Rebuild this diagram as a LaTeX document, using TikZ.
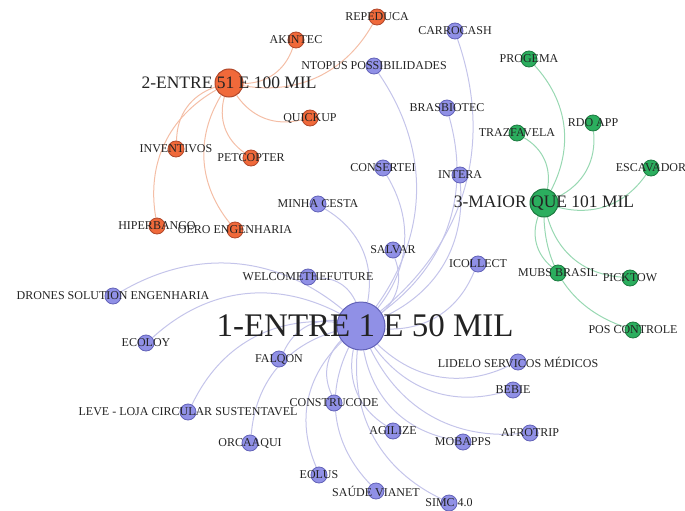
\documentclass[tikz,border=0pt]{standalone}
\usepackage{fontspec}
\setmainfont{Liberation Serif}
\usepackage{tikz}
\usetikzlibrary{calc}

\definecolor{lavender}{HTML}{9090E6}
\definecolor{lavenderdark}{HTML}{6262B8}
\definecolor{lavenderedge}{HTML}{C4C4EA}
\definecolor{coral}{HTML}{F0693A}
\definecolor{coraldark}{HTML}{B0472A}
\definecolor{coraledge}{HTML}{F4BEA6}
\definecolor{jade}{HTML}{2BAE5E}
\definecolor{jadedark}{HTML}{1C7A40}
\definecolor{jadeedge}{HTML}{98D8B2}
\definecolor{labelgray}{HTML}{232323}

\pgfdeclarelayer{background}
\pgfsetlayers{background,main}

\tikzset{
  tag/.style={text=labelgray, font=\fontsize{12}{12}\selectfont, inner sep=0pt},
  hubtag/.style={text=labelgray, font=\fontsize{17.5}{17.5}\selectfont, inner sep=0pt},
  bigtag/.style={text=labelgray, font=\fontsize{33}{33}\selectfont, inner sep=0pt},
  pnode/.style={circle, draw=lavenderdark, fill=lavender, line width=0.8pt, minimum size=16pt, inner sep=0pt, label={[tag]center:#1}},
  onode/.style={circle, draw=coraldark, fill=coral, line width=0.8pt, minimum size=16pt, inner sep=0pt, label={[tag]center:#1}},
  gnode/.style={circle, draw=jadedark, fill=jade, line width=0.8pt, minimum size=16pt, inner sep=0pt, label={[tag]center:#1}},
  pedge/.style={draw=lavenderedge, line width=1pt, bend left=35},
  oedge/.style={draw=coraledge, line width=1pt, bend left=35},
  gedge/.style={draw=jadeedge, line width=1pt, bend left=35}
}

\begin{document}
\begin{tikzpicture}[x=1pt, y=-1pt]
\useasboundingbox (0,0) rectangle (685,511);

% hubs
\node[circle, draw=lavenderdark, fill=lavender, line width=1pt, minimum size=48pt, inner sep=0pt, label={[bigtag, xshift=4pt]center:1-ENTRE 1 E 50 MIL}] (hubone) at (361,326) {};
\node[circle, draw=coraldark, fill=coral, line width=1pt, minimum size=28pt, inner sep=0pt, label={[hubtag]center:2-ENTRE 51 E 100 MIL}] (hubtwo) at (229,83) {};
\node[circle, draw=jadedark, fill=jade, line width=1pt, minimum size=28pt, inner sep=0pt, label={[hubtag]center:3-MAIOR QUE 101 MIL}] (hubthree) at (544,203) {};

% 2-ENTRE 51 E 100 MIL
\node[onode={REPEDUCA}] (repeduca) at (377,17) {};
\node[onode={AKINTEC}] (akintec) at (296,40) {};
\node[onode={QUICKUP}] (quickup) at (310,118) {};
\node[onode={INVENTIVOS}] (inventivos) at (176,149) {};
\node[onode={PETCOPTER}] (petcopter) at (251,158) {};
\node[onode={HIPERBANGO}] (hiperbango) at (157,226) {};
\node[onode={OERO ENGENHARIA}] (oero) at (235,230) {};

% 1-ENTRE 1 E 50 MIL
\node[pnode={CARROCASH}] (carrocash) at (455,31) {};
\node[pnode={NTOPUS POSSIBILIDADES}] (ntopus) at (374,66) {};
\node[pnode={BRASBIOTEC}] (brasbiotec) at (447,108) {};
\node[pnode={CONSERTEI}] (consertei) at (383,168) {};
\node[pnode={INTERA}] (intera) at (460,175) {};
\node[pnode={MINHA CESTA}] (minhacesta) at (318,204) {};
\node[pnode={SALVAR}] (salvar) at (393,250) {};
\node[pnode={WELCOMETHEFUTURE}] (welcome) at (308,277) {};
\node[pnode={ICOLLECT}] (icollect) at (478,264) {};
\node[pnode={DRONES SOLUTION ENGENHARIA}] (drones) at (113,296) {};
\node[pnode={ECOLOY}] (ecoloy) at (146,343) {};
\node[pnode={FALQON}] (falqon) at (279,359) {};
\node[pnode={LIDELO SERVICOS MÉDICOS}] (lidelo) at (518,362) {};
\node[pnode={BEBIE}] (bebie) at (513,390) {};
\node[pnode={LEVE - LOJA CIRCULAR SUSTENTAVEL}] (leve) at (188,412) {};
\node[pnode={CONSTRUCODE}] (construcode) at (334,403) {};
\node[pnode={AGILIZE}] (agilize) at (393,431) {};
\node[pnode={AFROTRIP}] (afrotrip) at (530,433) {};
\node[pnode={MOBAPPS}] (mobapps) at (463,442) {};
\node[pnode={ORCAAQUI}] (orcaaqui) at (250,443) {};
\node[pnode={EOLUS}] (eolus) at (319,475) {};
\node[pnode={SAÚDE VIANET}] (saude) at (376,491) {};
\node[pnode={SIMC 4.0}] (simc) at (449,503) {};

% 3-MAIOR QUE 101 MIL
\node[gnode={PROGEMA}] (progema) at (529,59) {};
\node[gnode={RDO APP}] (rdoapp) at (593,123) {};
\node[gnode={TRAZFAVELA}] (trazfavela) at (517,133) {};
\node[gnode={ESCAVADOR}] (escavador) at (651,168) {};
\node[gnode={MUBS BRASIL}] (mubs) at (558,273) {};
\node[gnode={PICKTOW}] (picktow) at (630,278) {};
\node[gnode={POS CONTROLE}] (poscontrole) at (633,330) {};

\begin{pgfonlayer}{background}
\draw[oedge] (repeduca) to (hubtwo);
\draw[oedge] (akintec) to (hubtwo);
\draw[oedge] (quickup) to (hubtwo);
\draw[oedge] (inventivos) to (hubtwo);
\draw[oedge] (petcopter) to (hubtwo);
\draw[oedge] (hiperbango) to (hubtwo);
\draw[oedge] (oero) to (hubtwo);

\draw[pedge] (carrocash) to (hubone);
\draw[pedge] (ntopus) to (hubone);
\draw[pedge] (brasbiotec) to (hubone);
\draw[pedge] (consertei) to (hubone);
\draw[pedge] (intera) to (hubone);
\draw[pedge] (minhacesta) to (hubone);
\draw[pedge] (salvar) to (hubone);
\draw[pedge] (welcome) to (hubone);
\draw[pedge] (icollect) to (hubone);
\draw[pedge] (drones) to (hubone);
\draw[pedge] (ecoloy) to (hubone);
\draw[pedge] (falqon) to (hubone);
\draw[pedge] (lidelo) to (hubone);
\draw[pedge] (bebie) to (hubone);
\draw[pedge] (leve) to (hubone);
\draw[pedge] (construcode) to (hubone);
\draw[pedge] (agilize) to (hubone);
\draw[pedge] (afrotrip) to (hubone);
\draw[pedge] (mobapps) to (hubone);
\draw[pedge] (orcaaqui) to (hubone);
\draw[pedge] (eolus) to (hubone);
\draw[pedge] (saude) to (hubone);
\draw[pedge] (simc) to (hubone);

\draw[gedge] (progema) to (hubthree);
\draw[gedge] (rdoapp) to (hubthree);
\draw[gedge] (trazfavela) to (hubthree);
\draw[gedge] (escavador) to (hubthree);
\draw[gedge] (mubs) to (hubthree);
\draw[gedge] (picktow) to (hubthree);
\draw[gedge] (poscontrole) to (hubthree);
\end{pgfonlayer}
\end{tikzpicture}
\end{document}
